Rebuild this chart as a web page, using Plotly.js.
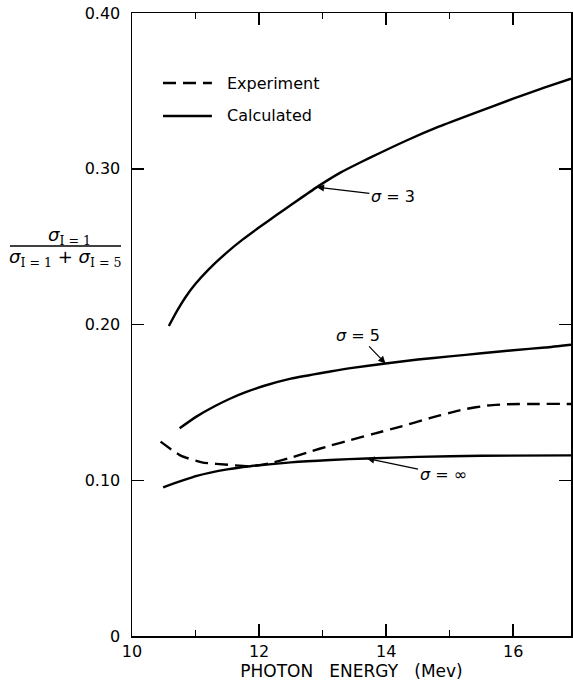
<!DOCTYPE html>
<html>
<head>
<meta charset="utf-8">
<script src="https://cdn.plot.ly/plotly-3.0.1.min.js"></script>
<style>html,body{margin:0;padding:0;background:#fff;}#chart{width:573px;height:683px;}</style>
</head>
<body>
<div id="chart"></div>
<script>
// Photon energy (MeV) and ratio sigma_{I=1}/(sigma_{I=1}+sigma_{I=5})
const sigma3X = [10.58, 10.7, 10.85, 11.0, 11.2, 11.5, 11.75, 12.02, 12.28, 12.54, 12.91, 13.28, 13.6, 13.91, 14.33, 14.8, 15.38, 16.0, 16.5, 16.91];
const sigma3Y = [0.199, 0.2081, 0.218, 0.2261, 0.2351, 0.2465, 0.2548, 0.2629, 0.2704, 0.2778, 0.2882, 0.2975, 0.3042, 0.3103, 0.3183, 0.3265, 0.3355, 0.345, 0.3522, 0.3578];

const sigma5X = [10.75, 11.02, 11.3, 11.55, 11.8, 12.07, 12.5, 13.12, 13.44, 13.99, 14.5, 15.0, 15.5, 16.0, 16.5, 16.91];
const sigma5Y = [0.1334, 0.141, 0.1475, 0.1525, 0.1567, 0.1605, 0.1652, 0.1698, 0.172, 0.175, 0.1775, 0.1795, 0.1815, 0.1835, 0.1852, 0.187];

const sigmaInfX = [10.49, 11.02, 11.5, 11.86, 12.5, 13.12, 13.7, 14.5, 15.5, 16.91];
const sigmaInfY = [0.0955, 0.1028, 0.107, 0.109, 0.1115, 0.113, 0.114, 0.115, 0.1157, 0.116];

const experimentX = [10.45, 10.76, 11.1, 11.55, 11.86, 12.18, 12.5, 12.81, 13.12, 13.44, 13.8, 14.17, 14.7, 15.0, 15.22, 15.6, 15.9, 16.4, 16.91];
const experimentY = [0.1248, 0.116, 0.1115, 0.1098, 0.109, 0.111, 0.1145, 0.1185, 0.1222, 0.1258, 0.1298, 0.1338, 0.140, 0.1433, 0.1455, 0.148, 0.1488, 0.149, 0.149];

const xTickVals = [10, 12, 14, 16];
const xTickText = ["10", "12", "14", "16"];
const xMinorVals = [11, 13, 15];
const yTickVals = [0, 0.1, 0.2, 0.3, 0.4];
const yTickText = ["0", "0.10", "0.20", "0.30", "0.40"];

const FONT = "DejaVu Sans";
const solid = {color: "#000", width: 2.4, shape: "spline", smoothing: 0.6};

const traces = [
  {x: sigma3X, y: sigma3Y, mode: "lines", name: "σ = 3", line: solid, showlegend: false},
  {x: sigma5X, y: sigma5Y, mode: "lines", name: "σ = 5", line: solid, showlegend: false},
  {x: sigmaInfX, y: sigmaInfY, mode: "lines", name: "σ = ∞", line: solid, showlegend: false},
  {x: experimentX, y: experimentY, mode: "lines", name: "Experiment",
   line: {color: "#000", width: 2.4, dash: "13px,7px", shape: "spline", smoothing: 0.6}, showlegend: false}
];

const axisCommon = {
  showline: true, linecolor: "#000", linewidth: 1.5, mirror: "ticks",
  ticks: "inside", tickcolor: "#000", tickwidth: 1.5, ticklen: 12,
  showgrid: false, zeroline: false, automargin: false,
  tickfont: {family: FONT, size: 16, color: "#000"}
};

const sub = s => '<sub><span style="font-family:DejaVu Serif">' + s + '</span></sub>';

const layout = {
  width: 573, height: 683,
  margin: {l: 132, r: 2, t: 13, b: 47},
  paper_bgcolor: "#fff", plot_bgcolor: "#fff",
  showlegend: false,
  font: {family: FONT, color: "#000"},
  xaxis: Object.assign({}, axisCommon, {
    range: [10, 16.91], tickmode: "array", tickvals: xTickVals, ticktext: xTickText,
    ticklabelstandoff: 0,
    minor: {tickmode: "array", tickvals: xMinorVals, ticks: "inside", ticklen: 6, tickwidth: 1.5, tickcolor: "#000", showgrid: false},
    title: {text: "PHOTON \u00a0\u00a0ENERGY \u00a0\u00a0(Mev)", font: {family: FONT, size: 17, color: "#000"}, standoff: 3}
  }),
  yaxis: Object.assign({}, axisCommon, {
    range: [0, 0.4], tickmode: "array", tickvals: yTickVals, ticktext: yTickText,
    ticklabelstandoff: 7
  }),
  shapes: [
    {type: "line", xref: "paper", yref: "paper", x0: 0.0706, x1: 0.182, y0: 0.8876, y1: 0.8876,
     line: {color: "#000", width: 2.4, dash: "13px,7px"}},
    {type: "line", xref: "paper", yref: "paper", x0: 0.0706, x1: 0.182, y0: 0.8347, y1: 0.8347,
     line: {color: "#000", width: 2.4}},
    {type: "line", xref: "paper", yref: "paper", x0: -0.278, x1: -0.025, y0: 0.626, y1: 0.626,
     line: {color: "#000", width: 1.5}}
  ],
  annotations: [
    {xref: "paper", yref: "paper", x: 0.2118, y: 0.8876, xanchor: "left", yanchor: "middle",
     text: "Experiment", showarrow: false, font: {family: FONT, size: 16, color: "#000"}},
    {xref: "paper", yref: "paper", x: 0.2118, y: 0.8347, xanchor: "left", yanchor: "middle",
     text: "Calculated", showarrow: false, font: {family: FONT, size: 16, color: "#000"}},
    {xref: "x", yref: "y", x: 12.91, y: 0.2882, ax: 76, ay: 9, text: "<i>σ</i> = 3",
     showarrow: true, arrowhead: 2, arrowsize: 1.2, arrowwidth: 1.2, arrowcolor: "#000",
     font: {family: FONT, size: 16, color: "#000"}},
    {xref: "x", yref: "y", x: 13.99, y: 0.175, ax: -27, ay: -28, text: "<i>σ</i> = 5",
     showarrow: true, arrowhead: 2, arrowsize: 1.2, arrowwidth: 1.2, arrowcolor: "#000",
     font: {family: FONT, size: 16, color: "#000"}},
    {xref: "x", yref: "y", x: 13.70, y: 0.114, ax: 76, ay: 16, text: "<i>σ</i> = ∞",
     showarrow: true, arrowhead: 2, arrowsize: 1.2, arrowwidth: 1.2, arrowcolor: "#000",
     font: {family: FONT, size: 16, color: "#000"}},
    {xref: "paper", yref: "paper", x: -0.1435, y: 0.642, xanchor: "center", yanchor: "middle",
     text: "<i>σ</i>" + sub("I = 1"), showarrow: false, font: {family: FONT, size: 18, color: "#000"}},
    {xref: "paper", yref: "paper", x: -0.152, y: 0.607, xanchor: "center", yanchor: "middle",
     text: "<i>σ</i>" + sub("I = 1") + " + <i>σ</i>" + sub("I = 5"), showarrow: false, font: {family: FONT, size: 18, color: "#000"}}
  ]
};

Plotly.newPlot("chart", traces, layout, {staticPlot: true, displayModeBar: false});
</script>
</body>
</html>
